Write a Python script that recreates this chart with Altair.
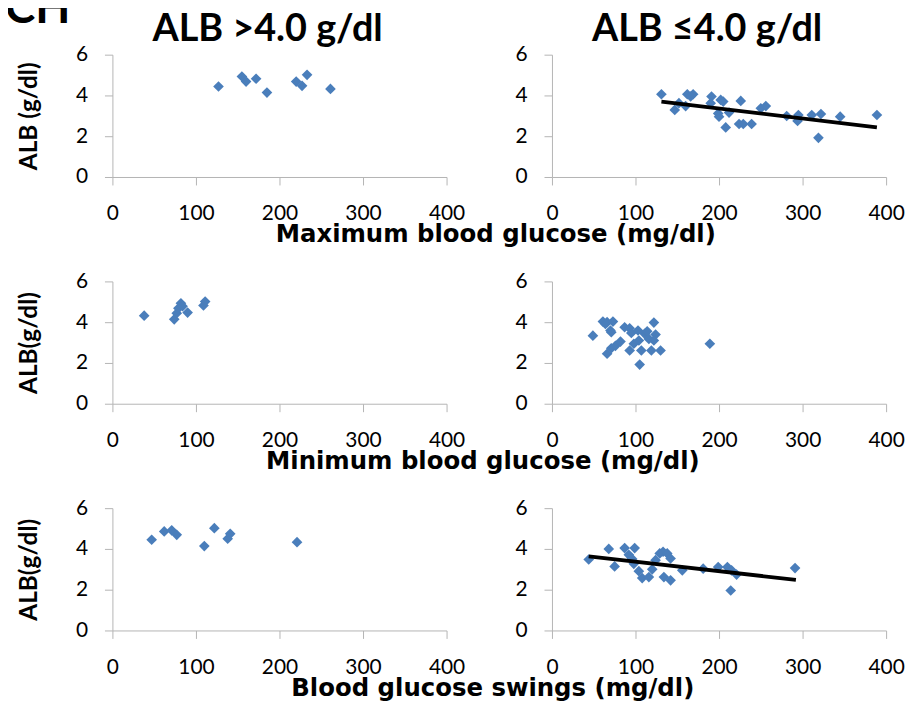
import altair as alt
import pandas as pd

FONT = "Lato"
XT_FONT = "DejaVu Sans"
BLUE = "#4a7ebb"
AXC = "#b4b4b4"

# Row 1: Maximum blood glucose
max_hi_x = [127, 155, 160, 172, 185, 220, 227, 233, 261]
max_hi_y = [4.44, 4.93, 4.68, 4.82, 4.14, 4.68, 4.47, 5.01, 4.32]
max_lo_x = [131, 147, 152, 160, 162, 166, 169, 191, 190, 199, 202, 205, 200, 208, 212,
            226, 224, 229, 239, 250, 256, 281, 295, 294, 311, 322, 319, 345, 389]
max_lo_y = [4.06, 3.29, 3.62, 3.48, 4.06, 3.95, 4.06, 3.95, 3.62, 3.12, 3.78, 3.70, 2.96, 2.43, 3.16,
            3.73, 2.60, 2.60, 2.60, 3.37, 3.48, 2.99, 3.04, 2.75, 3.04, 3.09, 1.92, 2.96, 3.04]
max_lo_trend_x = [131, 389]
max_lo_trend_y = [3.70, 2.43]

# Row 2: Minimum blood glucose
min_hi_x = [38, 74, 77, 79, 82, 84, 90, 109, 111]
min_hi_y = [4.32, 4.14, 4.44, 4.68, 4.93, 4.78, 4.47, 4.82, 5.01]
min_lo_x = [49, 61, 66, 73, 64, 70, 71, 66, 71, 76, 82, 87, 93, 95, 93, 98, 103, 104, 105,
            107, 111, 114, 116, 119, 122, 124, 122, 130, 189]
min_lo_y = [3.34, 4.03, 4.00, 4.03, 3.91, 3.59, 3.51, 2.45, 2.72, 2.84, 3.05, 3.75, 3.70, 3.47, 2.61,
            2.94, 3.59, 3.10, 1.92, 2.61, 3.43, 3.55, 3.18, 2.61, 3.98, 3.39, 3.10, 2.61, 2.94]

# Row 3: Blood glucose swings
swing_hi_x = [47, 62, 71, 77, 110, 122, 138, 141, 221]
swing_hi_y = [4.45, 4.86, 4.91, 4.69, 4.14, 5.02, 4.50, 4.74, 4.33]
swing_lo_x = [44, 68, 75, 87, 92, 99, 96, 98, 108, 116, 120, 124, 129, 133, 138, 142, 134,
              142, 156, 181, 199, 210, 215, 221, 214, 291, 104]
swing_lo_y = [3.48, 4.00, 3.14, 4.04, 3.71, 4.04, 3.51, 3.27, 2.57, 2.62, 3.00, 3.45, 3.78, 3.86,
              3.78, 3.53, 2.62, 2.46, 2.95, 3.03, 3.11, 3.11, 2.95, 2.74, 1.96, 3.06, 2.91]
swing_lo_trend_x = [44, 292]
swing_lo_trend_y = [3.64, 2.48]

x_ticks = [0, 100, 200, 300, 400]
y_ticks = [0, 2, 4, 6]
col_titles = ["ALB >4.0 g/dl", "ALB \u22644.0 g/dl"]
y_titles = ["ALB (g/dl)", "ALB(g/dl)", "ALB(g/dl)"]
x_titles = ["Maximum blood glucose (mg/dl)", "Minimum blood glucose (mg/dl)",
            "Blood glucose swings (mg/dl)"]
x_title_centers = [385, 372, 382]


def panel(xs, ys, trend=None, title=None, ytitle=None, xtitle=None, xtitle_x=0):
    df = pd.DataFrame({"x": xs, "y": ys})
    xaxis_kw = dict(values=x_ticks, tickSize=8, labelPadding=18, domainColor=AXC,
                    tickColor=AXC, labelFontSize=21, labelFont=FONT, labelColor="black",
                    labelFlush=False, grid=False)
    if xtitle:
        xaxis_kw.update(title=xtitle, titleFont=XT_FONT, titleFontSize=24.5,
                        titleFontWeight="bold", titleColor="black", titleX=xtitle_x,
                        titlePadding=-1)
    else:
        xaxis_kw.update(title=None)
    yaxis_kw = dict(values=y_ticks, tickSize=8, labelPadding=17, domainColor=AXC,
                    tickColor=AXC, labelFontSize=21, labelFont=FONT, labelColor="black",
                    grid=False)
    if ytitle:
        yaxis_kw.update(title=ytitle, titleFont=FONT, titleFontSize=24.5, titleFontWeight="bold",
                        titleColor="black", titlePadding=34)
    else:
        yaxis_kw.update(title=None)
    xenc = alt.X("x:Q", scale=alt.Scale(domain=[0, 400], nice=False), axis=alt.Axis(**xaxis_kw))
    yenc = alt.Y("y:Q", scale=alt.Scale(domain=[0, 6], nice=False), axis=alt.Axis(**yaxis_kw))
    pts = alt.Chart(df).mark_point(shape="diamond", filled=True, size=115, color=BLUE,
                                   opacity=1).encode(x=xenc, y=yenc)
    layers = [pts]
    if trend is not None:
        tdf = pd.DataFrame({"x": trend[0], "y": trend[1]})
        line = alt.Chart(tdf).mark_line(color="black", strokeWidth=3.8).encode(
            x=alt.X("x:Q"), y=alt.Y("y:Q"))
        layers.append(line)
    ch = alt.layer(*layers).properties(width=336, height=123)
    if title:
        ch = ch.properties(title=alt.TitleParams(title, font=FONT, fontSize=38, fontWeight="bold",
                                                 color="black", dx=-12, offset=-5))
    return ch


panels = [
    panel(max_hi_x, max_hi_y, title=col_titles[0], ytitle=y_titles[0], xtitle=x_titles[0],
          xtitle_x=x_title_centers[0]),
    panel(max_lo_x, max_lo_y, trend=(max_lo_trend_x, max_lo_trend_y), title=col_titles[1]),
    panel(min_hi_x, min_hi_y, ytitle=y_titles[1], xtitle=x_titles[1], xtitle_x=x_title_centers[1]),
    panel(min_lo_x, min_lo_y),
    panel(swing_hi_x, swing_hi_y, ytitle=y_titles[2], xtitle=x_titles[2],
          xtitle_x=x_title_centers[2]),
    panel(swing_lo_x, swing_lo_y, trend=(swing_lo_trend_x, swing_lo_trend_y)),
]

chart = alt.concat(*panels, columns=2, spacing={"row": 105, "column": 106}, bounds="flush").properties(
    title=alt.TitleParams("CH", font=FONT, fontSize=46, fontWeight="bold", color="black",
                          anchor="start", frame="group", dx=-108, offset=-22),
    padding={"left": -3, "top": -24, "right": 0, "bottom": 0},
).configure_view(strokeWidth=0)

chart.save("out.html", embed_options={"renderer": "svg", "actions": False})
